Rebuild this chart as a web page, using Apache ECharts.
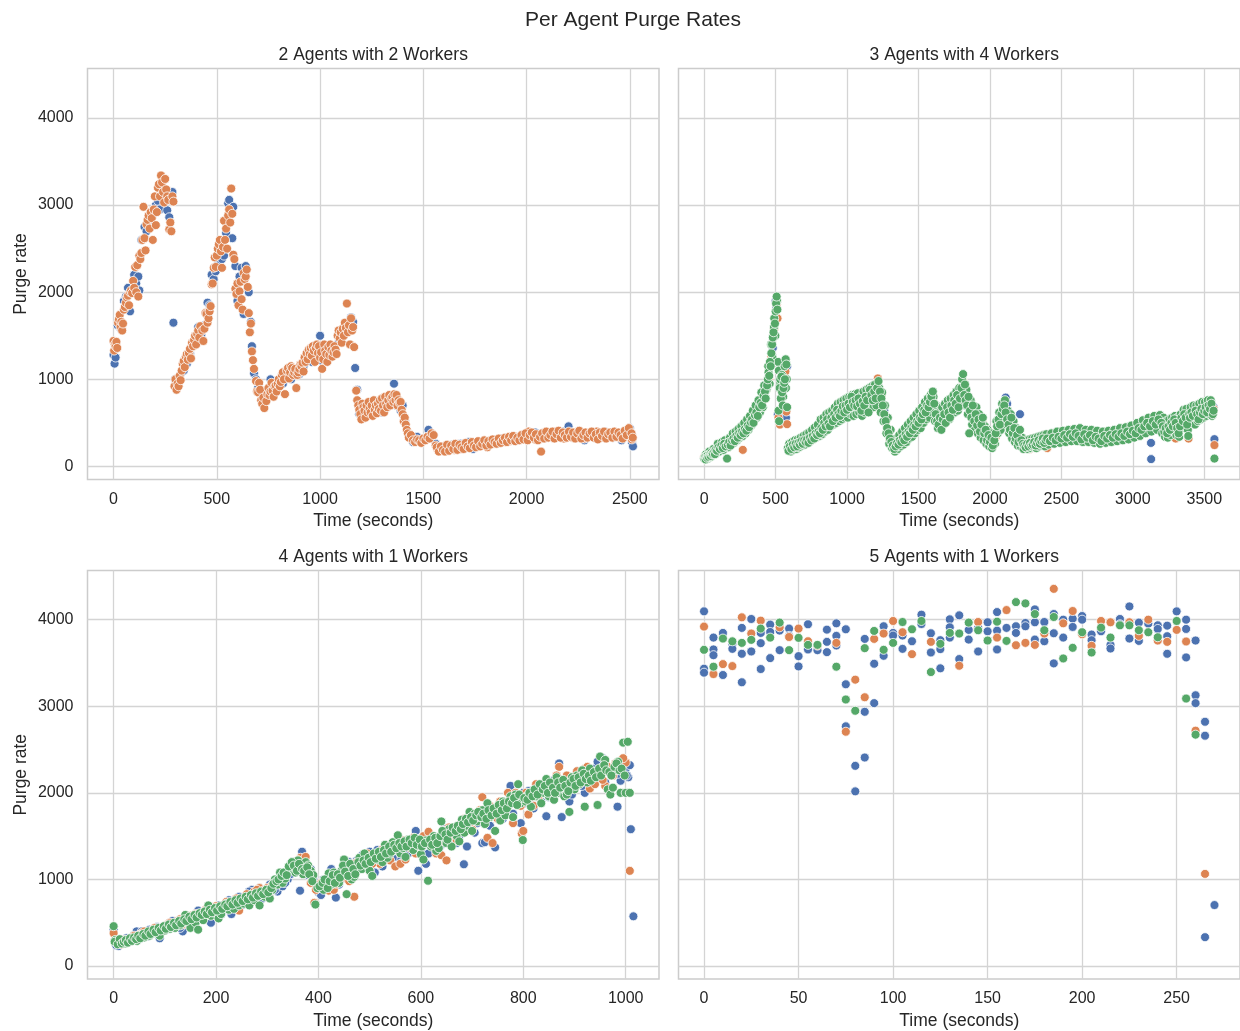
<!DOCTYPE html>
<html>
<head>
<meta charset="utf-8">
<script src="https://cdn.jsdelivr.net/npm/echarts@6/dist/echarts.min.js"></script>
<style>
html,body{margin:0;padding:0;background:#fff;}
#chart{width:1240px;height:1031px;}
</style>
</head>
<body>
<div id="chart"></div>
<script>
// ---------- labels ----------
const mainTitle = 'Per Agent Purge Rates';
const panelTitles = ['2 Agents with 2 Workers', '3 Agents with 4 Workers', '4 Agents with 1 Workers', '5 Agents with 1 Workers'];
const xAxisName = 'Time (seconds)';
const yAxisName = 'Purge rate';
const yTicks = [0, 1000, 2000, 3000, 4000];
const xTicksA = [0, 500, 1000, 1500, 2000, 2500];
const xTicksB = [0, 500, 1000, 1500, 2000, 2500, 3000, 3500];
const xTicksC = [0, 200, 400, 600, 800, 1000];
const xTicksD = [0, 50, 100, 150, 200, 250];

// ---------- panel 1: 2 agents with 2 workers ----------
const p1Blue = [[0,1280],[5,1180],[10,1250],[20,1620],[35,1580],[50,1900],[60,1950],[70,2050],[80,1780],[90,2000],[100,2200],[110,2100],[120,2180],[125,2020],[135,2600],[150,2750],[160,2700],[170,2850],[185,2760],[195,2900],[205,3000],[215,3050],[225,2950],[240,3300],[250,3100],[260,2940],[270,2860],[280,3050],[285,3150],[290,1650],[298,1000],[305,950],[315,1020],[325,1060],[340,1100],[355,1180],[370,1300],[385,1400],[400,1480],[410,1600],[425,1510],[440,1620],[455,1880],[465,1850],[475,2200],[485,2150],[495,2240],[505,2320],[515,2480],[525,2380],[535,2420],[545,2680],[555,3020],[560,3060],[570,2940],[575,2620],[580,2980],[590,2300],[600,1900],[610,2180],[620,2280],[630,1750],[640,2300],[650,2050],[655,2000],[665,1660],[670,1380],[680,1070],[690,1000],[700,900],[720,780],[740,820],[760,1000],[780,860],[800,1000],[820,950],[840,1040],[860,1000],[880,1100],[900,1060],[920,1150],[940,1230],[960,1200],[980,1280],[1000,1500],[1010,1210],[1030,1270],[1050,1300],[1070,1290],[1090,1420],[1110,1560],[1130,1600],[1150,1710],[1160,1660],[1170,1130],[1180,880],[1190,600],[1200,560],[1220,650],[1240,600],[1260,700],[1280,680],[1300,620],[1320,760],[1340,700],[1358,950],[1370,700],[1390,640],[1400,700],[1410,530],[1430,350],[1450,280],[1470,340],[1490,300],[1510,320],[1525,420],[1545,350],[1560,260],[1580,180],[1600,220],[1620,200],[1640,250],[1660,210],[1680,260],[1700,220],[1720,280],[1740,200],[1760,270],[1780,240],[1800,290],[1820,260],[1840,300],[1860,280],[1880,320],[1900,290],[1920,330],[1940,300],[1960,340],[1980,320],[2000,360],[2020,340],[2040,390],[2060,320],[2080,360],[2100,380],[2120,340],[2140,390],[2160,350],[2180,400],[2203,460],[2220,370],[2240,330],[2260,390],[2280,300],[2300,360],[2320,380],[2340,320],[2360,370],[2380,400],[2400,350],[2420,330],[2440,380],[2460,300],[2480,360],[2500,440],[2510,280],[2515,230]];
const p1Orange = [[0,1440],[3,1330],[6,1400],[10,1380],[14,1430],[18,1360],[22,1650],[26,1690],[30,1740],[34,1600],[38,1660],[42,1560],[46,1640],[50,1800],[55,1830],[60,1880],[65,1940],[70,1960],[75,1850],[80,2000],[85,2020],[90,1990],[95,2130],[100,2050],[105,2290],[110,2000],[115,2310],[120,1950],[125,2420],[130,2380],[135,2450],[140,2600],[145,2980],[150,2620],[155,2480],[160,2780],[165,2830],[170,2880],[175,2730],[180,2920],[185,2850],[190,2600],[195,2950],[200,3100],[205,2770],[210,2920],[215,3200],[220,3240],[225,3100],[230,3340],[235,3260],[240,3150],[245,3030],[250,3300],[255,3180],[260,3100],[265,3060],[270,2720],[275,2800],[280,2700],[285,3100],[290,3040],[295,920],[300,1000],[305,880],[310,950],[315,920],[320,1040],[325,990],[330,1100],[335,1180],[340,1210],[345,1140],[350,1260],[355,1290],[360,1225],[365,1300],[370,1350],[375,1240],[380,1420],[385,1380],[390,1450],[395,1500],[400,1400],[405,1520],[410,1560],[415,1480],[420,1610],[430,1560],[435,1440],[440,1580],[445,1760],[450,1750],[455,1650],[460,1700],[465,1780],[470,1840],[475,2090],[480,2100],[485,2280],[490,2400],[495,2290],[500,2420],[505,2500],[510,2550],[515,2600],[520,2470],[525,2280],[530,2520],[535,2820],[540,2600],[545,2730],[550,2500],[555,2880],[560,2950],[565,2800],[570,3190],[575,2900],[580,2430],[585,2380],[590,2040],[595,1980],[600,2100],[605,1850],[610,2010],[615,2120],[620,1920],[625,1800],[630,2220],[635,2150],[640,2180],[645,2260],[650,2060],[655,1760],[660,1540],[665,1640],[670,1320],[675,1220],[680,1120],[690,980],[695,860],[700,850],[705,960],[710,880],[715,760],[720,720],[725,790],[730,670],[740,750],[745,830],[750,900],[755,820],[760,860],[765,960],[770,870],[775,800],[780,920],[785,930],[790,860],[795,950],[800,1000],[805,920],[810,970],[815,1050],[820,1080],[825,1000],[830,830],[840,1100],[845,1130],[850,1010],[855,1080],[860,1150],[865,1130],[870,1050],[875,1080],[880,1120],[885,900],[890,1050],[895,1080],[900,1120],[905,1170],[910,1150],[915,1190],[920,1090],[925,1250],[930,1200],[935,1300],[940,1230],[945,1340],[950,1290],[955,1360],[960,1270],[965,1380],[970,1330],[975,1200],[980,1360],[985,1400],[990,1300],[995,1380],[1000,1250],[1005,1310],[1010,1120],[1015,1230],[1020,1400],[1025,1330],[1030,1290],[1035,1200],[1040,1370],[1045,1280],[1050,1400],[1055,1330],[1060,1260],[1065,1310],[1070,1380],[1075,1340],[1080,1290],[1085,1500],[1090,1560],[1095,1470],[1100,1540],[1105,1420],[1110,1580],[1115,1500],[1120,1650],[1125,1590],[1130,1870],[1135,1540],[1140,1620],[1145,1400],[1150,1700],[1155,1560],[1160,1600],[1165,1370],[1175,870],[1180,760],[1185,700],[1190,650],[1195,600],[1200,540],[1205,720],[1210,680],[1215,640],[1220,560],[1225,700],[1230,620],[1235,740],[1240,660],[1245,620],[1250,700],[1255,580],[1260,760],[1265,650],[1270,700],[1275,610],[1280,720],[1285,660],[1290,760],[1295,640],[1300,780],[1305,700],[1310,620],[1315,800],[1320,720],[1325,680],[1330,760],[1335,820],[1340,700],[1345,780],[1350,800],[1355,740],[1360,830],[1365,760],[1370,820],[1375,700],[1380,760],[1385,730],[1390,740],[1395,650],[1400,600],[1405,520],[1410,560],[1415,480],[1420,420],[1425,380],[1430,330],[1440,360],[1450,300],[1460,280],[1470,310],[1480,300],[1490,270],[1500,320],[1510,300],[1520,340],[1530,320],[1540,380],[1550,360],[1560,240],[1570,190],[1580,200],[1590,180],[1600,210],[1610,190],[1620,230],[1630,200],[1640,220],[1650,190],[1660,240],[1670,210],[1680,200],[1690,230],[1700,250],[1710,220],[1720,240],[1730,260],[1740,230],[1750,250],[1760,240],[1770,270],[1780,250],[1790,280],[1800,260],[1810,220],[1820,270],[1830,290],[1840,260],[1850,300],[1860,270],[1870,290],[1880,310],[1890,280],[1900,300],[1910,320],[1920,290],[1930,310],[1940,330],[1950,300],[1960,340],[1970,310],[1980,330],[1990,350],[2000,340],[2010,400],[2020,320],[2030,360],[2040,310],[2050,340],[2060,360],[2070,170],[2080,330],[2090,380],[2100,350],[2110,390],[2120,330],[2130,360],[2140,400],[2150,340],[2160,380],[2170,350],[2180,320],[2190,370],[2200,390],[2210,360],[2220,330],[2230,380],[2240,350],[2250,370],[2260,340],[2270,380],[2280,320],[2290,360],[2300,390],[2310,350],[2320,370],[2330,340],[2340,400],[2350,360],[2360,330],[2370,380],[2380,350],[2390,390],[2400,360],[2410,340],[2420,380],[2430,350],[2440,370],[2450,330],[2460,360],[2470,380],[2480,340],[2490,420],[2500,400],[2505,360],[2510,310]];
const p1OrangeLate = [[1565,220],[1575,170],[1585,230],[1595,190],[1605,170],[1615,250],[1625,180],[1635,240],[1645,200],[1655,260],[1665,190],[1675,250],[1685,220],[1695,200],[1705,270],[1715,230],[1725,210],[1735,280],[1745,240],[1755,220],[1765,290],[1775,230],[1785,260],[1795,300],[1805,240],[1815,290],[1825,250],[1835,310],[1845,280],[1855,260],[1865,320],[1875,270],[1885,300],[1895,330],[1905,280],[1915,340],[1925,300],[1935,350],[1945,290],[1955,330],[1965,300],[1975,360],[1985,310],[1995,380],[2005,300],[2015,360],[2025,390],[2035,330],[2045,370],[2055,300],[2065,340],[2075,380],[2085,320],[2095,400],[2105,330],[2115,360],[2125,400],[2135,320],[2145,370],[2155,410],[2165,330],[2175,390],[2185,360],[2195,330],[2205,400],[2215,340],[2225,390],[2235,320],[2245,380],[2255,410],[2265,320],[2275,360],[2285,390],[2295,330],[2305,380],[2315,400],[2325,330],[2335,370],[2345,310],[2355,390],[2365,350],[2375,400],[2385,320],[2395,370],[2405,390],[2415,330],[2425,400],[2435,340],[2445,390],[2455,360],[2465,320],[2475,410],[2485,360],[2495,440],[2508,380],[2514,330]];

// ---------- panel 2: 3 agents with 4 workers ----------
const p2Blue = [[0,100],[20,120],[40,150],[60,140],[80,200],[100,190],[120,230],[150,260],[180,290],[210,330],[240,370],[270,420],[300,460],[330,520],[360,600],[390,660],[420,800],[440,900],[460,1160],[480,1360],[500,1900],[505,1830],[515,600],[525,560],[535,950],[545,600],[555,1100],[565,1220],[572,560],[580,1150],[590,190],[610,210],[640,240],[670,260],[700,280],[730,300],[760,330],[790,370],[820,420],[850,470],[880,500],[910,560],[940,620],[970,600],[1000,580],[1030,720],[1060,690],[1090,740],[1120,680],[1150,720],[1180,850],[1210,860],[1240,760],[1260,640],[1290,420],[1320,220],[1340,180],[1370,270],[1400,310],[1430,360],[1460,400],[1490,460],[1520,520],[1550,600],[1580,680],[1610,640],[1640,500],[1670,560],[1700,600],[1730,640],[1760,700],[1790,720],[1810,780],[1830,700],[1860,620],[1890,500],[1920,580],[1940,440],[1970,330],[2000,260],[2030,300],[2060,520],[2090,640],[2110,790],[2120,720],[2140,560],[2170,400],[2190,330],[2210,600],[2230,240],[2260,250],[2300,260],[2340,280],[2380,300],[2420,280],[2460,310],[2500,290],[2540,340],[2580,320],[2620,360],[2660,340],[2700,350],[2740,280],[2780,320],[2820,300],[2860,340],[2900,320],[2940,360],[2980,340],[3020,400],[3060,400],[3100,480],[3127,270],[3128,84],[3150,500],[3180,520],[3220,420],[3260,460],[3300,520],[3340,500],[3380,580],[3420,600],[3460,560],[3500,660],[3540,700],[3565,680],[3571,313]];
const p2Orange = [[0,110],[25,120],[50,150],[75,170],[100,230],[125,220],[150,250],[175,270],[200,300],[225,320],[250,350],[270,190],[290,400],[320,480],[350,560],[380,640],[410,760],[435,880],[455,1000],[470,1260],[490,1580],[500,1720],[507,1860],[513,1700],[520,560],[530,480],[540,880],[550,1040],[560,650],[568,1090],[575,630],[580,485],[590,200],[620,230],[660,250],[700,290],[740,310],[780,360],[820,420],[860,480],[900,540],[940,580],[980,660],[1020,700],[1060,720],[1100,660],[1140,760],[1180,820],[1215,1010],[1240,800],[1270,500],[1300,300],[1330,190],[1360,240],[1390,300],[1420,350],[1450,420],[1480,470],[1510,540],[1540,600],[1570,660],[1600,760],[1630,540],[1660,500],[1690,620],[1720,640],[1750,700],[1780,740],[1812,980],[1830,760],[1860,740],[1890,600],[1920,440],[1950,500],[1980,330],[2010,270],[2040,340],[2070,520],[2100,640],[2130,500],[2160,420],[2190,300],[2220,280],[2250,230],[2280,200],[2310,250],[2340,280],[2370,300],[2400,210],[2430,290],[2460,320],[2490,300],[2520,340],[2550,350],[2580,300],[2610,360],[2640,420],[2670,330],[2700,360],[2730,310],[2760,300],[2790,340],[2820,320],[2850,350],[2880,330],[2910,380],[2940,360],[2970,400],[3000,390],[3030,420],[3060,460],[3090,450],[3120,500],[3150,520],[3180,480],[3210,440],[3240,400],[3270,480],[3300,320],[3330,500],[3360,540],[3390,320],[3420,620],[3450,560],[3480,660],[3510,600],[3540,700],[3565,660],[3571,245]];
const p2Green = [[0,90],[5,110],[10,80],[15,120],[20,100],[25,130],[30,110],[40,140],[45,120],[50,160],[55,140],[60,150],[70,170],[75,140],[80,190],[90,180],[100,220],[110,200],[120,240],[130,210],[140,260],[150,230],[160,90],[165,250],[175,280],[185,240],[195,300],[205,320],[215,290],[225,350],[235,330],[245,380],[255,360],[265,400],[275,380],[285,430],[295,410],[305,470],[315,450],[325,510],[335,540],[345,500],[355,590],[365,620],[375,580],[385,680],[395,730],[405,700],[415,810],[425,860],[430,780],[440,930],[445,1000],[450,1080],[455,1040],[460,1200],[465,1150],[470,1300],[475,1400],[480,1480],[485,1540],[490,1700],[495,1640],[500,1780],[503,1870],[507,1950],[512,1800],[520,640],[524,520],[528,900],[532,1000],[536,780],[540,1030],[545,850],[550,700],[555,900],[560,960],[565,1000],[570,1230],[575,1170],[580,680],[585,210],[590,180],[600,230],[610,200],[620,250],[630,220],[640,260],[650,230],[660,270],[670,250],[680,290],[690,260],[700,300],[710,280],[720,310],[730,270],[740,330],[750,300],[760,350],[770,320],[780,380],[790,360],[800,400],[810,380],[820,440],[830,420],[840,500],[850,460],[860,540],[870,490],[880,460],[890,560],[900,520],[910,600],[920,560],[930,650],[940,600],[950,580],[960,640],[970,690],[980,620],[990,700],[1000,650],[1010,720],[1020,680],[1030,800],[1040,740],[1050,700],[1060,760],[1070,690],[1080,780],[1090,720],[1100,640],[1110,750],[1120,700],[1130,800],[1140,760],[1150,620],[1160,880],[1170,820],[1180,760],[1190,860],[1200,780],[1210,900],[1220,980],[1230,860],[1240,780],[1250,700],[1260,600],[1270,520],[1280,440],[1290,380],[1300,320],[1310,280],[1320,240],[1330,200],[1340,230],[1350,270],[1360,250],[1370,300],[1380,280],[1390,330],[1400,300],[1410,370],[1420,340],[1430,400],[1440,380],[1450,440],[1460,420],[1470,480],[1480,460],[1490,520],[1500,500],[1510,560],[1520,540],[1530,600],[1540,650],[1550,620],[1560,700],[1570,680],[1580,740],[1590,800],[1600,860],[1610,720],[1620,600],[1630,520],[1640,480],[1650,560],[1660,420],[1670,540],[1680,600],[1690,500],[1700,680],[1710,620],[1720,560],[1730,700],[1740,650],[1750,760],[1760,720],[1770,820],[1780,680],[1790,780],[1800,900],[1805,1000],[1812,1060],[1820,820],[1825,940],[1830,760],[1840,700],[1850,800],[1855,380],[1860,640],[1870,560],[1880,700],[1890,520],[1900,600],[1910,470],[1920,540],[1930,400],[1940,480],[1950,560],[1960,380],[1970,420],[1980,300],[1990,360],[2000,280],[2010,330],[2020,240],[2030,300],[2040,380],[2050,460],[2060,540],[2070,480],[2080,600],[2090,660],[2100,700],[2110,620],[2120,540],[2130,480],[2140,420],[2150,560],[2160,380],[2170,440],[2180,320],[2190,360],[2200,280],[2210,420],[2220,300],[2230,260],[2240,240],[2250,220],[2260,260],[2270,230],[2280,270],[2290,240],[2300,250],[2310,280],[2320,240],[2330,270],[2340,300],[2350,260],[2360,290],[2370,320],[2380,270],[2390,300],[2400,320],[2420,290],[2440,330],[2460,300],[2480,340],[2500,320],[2520,360],[2540,330],[2560,370],[2580,340],[2600,380],[2620,350],[2640,310],[2660,370],[2680,330],[2700,360],[2720,300],[2740,340],[2760,320],[2780,290],[2800,350],[2820,320],[2840,360],[2860,330],[2880,370],[2900,340],[2920,380],[2940,350],[2960,400],[2980,370],[3000,410],[3020,380],[3040,440],[3060,420],[3080,460],[3100,500],[3120,460],[3140,520],[3160,480],[3180,540],[3200,500],[3210,460],[3220,400],[3230,440],[3240,380],[3250,460],[3260,420],[3270,500],[3280,460],[3290,540],[3300,500],[3310,440],[3320,380],[3330,460],[3340,560],[3350,520],[3360,600],[3370,560],[3380,480],[3388,350],[3395,600],[3400,560],[3410,620],[3420,580],[3440,640],[3450,600],[3460,540],[3470,620],[3480,660],[3490,600],[3500,640],[3510,680],[3520,620],[3530,700],[3540,660],[3550,720],[3560,600],[3565,640],[3571,90]];
const p2GreenEdge = [[12,140],[28,90],[35,170],[48,110],[65,200],[85,150],[95,260],[105,170],[125,280],[135,190],[145,300],[170,220],[180,330],[190,260],[200,380],[210,270],[220,400],[230,300],[240,430],[250,330],[260,460],[270,350],[280,500],[290,380],[300,540],[310,420],[320,580],[330,470],[340,640],[350,530],[360,700],[370,560],[380,760],[390,620],[400,850],[410,680],[420,930],[435,880],[448,1150],[458,950],[468,1400],[478,1250],[488,1600],[498,1500],[510,1900],[517,1200],[522,1100],[533,960],[543,1050],[553,800],[563,1150],[572,900],[578,1000],[595,260],[605,170],[615,280],[625,190],[635,300],[645,200],[655,310],[665,220],[675,330],[685,240],[695,350],[705,250],[715,370],[725,280],[735,390],[745,290],[755,420],[765,310],[775,450],[785,330],[795,480],[805,350],[815,540],[825,370],[835,560],[845,400],[855,600],[865,420],[875,620],[885,460],[895,640],[905,480],[915,680],[925,500],[935,720],[945,520],[955,740],[965,540],[975,760],[985,560],[995,780],[1005,560],[1015,800],[1025,600],[1035,820],[1045,580],[1055,830],[1065,600],[1075,840],[1085,620],[1095,800],[1105,580],[1115,860],[1125,620],[1135,880],[1145,680],[1155,900],[1165,700],[1175,920],[1185,680],[1195,940],[1205,700],[1225,900],[1235,620],[1245,850],[1255,520],[1265,700],[1275,380],[1285,560],[1295,260],[1305,420],[1315,210],[1325,300],[1335,170],[1345,320],[1355,200],[1365,360],[1375,230],[1385,400],[1395,250],[1405,440],[1415,280],[1425,480],[1435,320],[1445,520],[1455,340],[1465,560],[1475,380],[1485,600],[1495,420],[1505,640],[1515,440],[1525,680],[1535,500],[1545,740],[1555,540],[1565,780],[1575,560],[1585,820],[1595,620],[1605,800],[1615,520],[1625,700],[1635,440],[1645,620],[1655,500],[1665,680],[1675,480],[1685,720],[1695,560],[1705,760],[1715,540],[1725,780],[1735,600],[1745,820],[1755,620],[1765,860],[1775,640],[1785,900],[1795,700],[1815,920],[1835,880],[1845,600],[1865,760],[1875,480],[1885,640],[1895,420],[1905,680],[1915,380],[1925,600],[1935,330],[1945,500],[1955,300],[1965,460],[1975,260],[1985,420],[1995,230],[2005,380],[2015,210],[2025,340],[2035,260],[2045,520],[2055,380],[2065,620],[2075,420],[2085,720],[2095,560],[2105,760],[2115,480],[2125,640],[2135,380],[2145,600],[2155,320],[2165,520],[2175,280],[2185,440],[2195,240],[2205,360],[2215,230],[2225,330],[2235,200],[2245,290],[2255,300],[2265,200],[2275,310],[2285,210],[2295,320],[2305,220],[2315,330],[2325,210],[2335,340],[2345,230],[2355,350],[2365,240],[2375,360],[2385,230],[2395,370],[2410,250],[2430,380],[2450,260],[2470,400],[2490,270],[2510,410],[2530,280],[2550,420],[2570,290],[2590,430],[2610,290],[2630,440],[2650,280],[2670,420],[2690,280],[2710,420],[2730,270],[2750,410],[2770,260],[2790,400],[2810,270],[2830,410],[2850,280],[2870,420],[2890,290],[2910,440],[2930,300],[2950,450],[2970,310],[2990,470],[3010,330],[3030,500],[3050,350],[3070,530],[3090,380],[3110,560],[3130,400],[3150,580],[3170,420],[3190,590],[3205,380],[3215,560],[3225,340],[3235,520],[3245,330],[3255,540],[3265,360],[3275,560],[3285,400],[3295,580],[3305,360],[3315,560],[3325,340],[3335,600],[3345,440],[3355,650],[3365,460],[3375,660],[3385,420],[3405,680],[3415,500],[3425,700],[3435,480],[3445,700],[3455,520],[3465,720],[3475,540],[3485,740],[3495,560],[3505,740],[3515,580],[3525,760],[3535,600],[3545,760],[3555,580]];

// ---------- panel 3: 4 agents with 1 workers ----------
const p3Blue = [[0,420],[5,240],[10,230],[15,300],[20,260],[30,280],[40,360],[45,400],[50,310],[60,370],[70,420],[80,390],[90,320],[100,460],[110,500],[120,470],[135,400],[140,520],[150,560],[160,600],[170,580],[180,620],[190,500],[200,640],[210,600],[220,700],[230,600],[240,750],[250,700],[260,800],[270,880],[280,820],[290,780],[300,850],[310,900],[320,860],[330,920],[340,1000],[350,1100],[360,1150],[364,870],[368,1320],[375,1200],[380,1050],[390,1000],[400,850],[405,820],[410,1000],[420,980],[425,1120],[430,900],[434,790],[440,940],[450,1050],[460,1200],[470,1100],[480,1150],[490,1200],[500,1320],[510,1080],[520,1200],[530,1250],[540,1300],[550,1400],[560,1220],[570,1370],[580,1420],[590,1560],[595,1100],[600,1320],[610,1180],[620,1380],[630,1450],[640,1400],[650,1520],[660,1480],[670,1420],[680,1560],[684,1175],[690,1380],[700,1600],[710,1650],[720,1420],[725,1430],[730,1700],[740,1740],[745,1370],[750,1800],[760,1700],[770,1850],[775,2080],[780,1760],[790,1900],[795,1650],[800,2000],[810,2020],[815,1880],[820,1820],[830,1960],[840,2100],[845,1730],[850,1950],[860,2150],[870,2340],[875,1720],[880,2050],[890,1900],[900,2100],[910,2160],[920,2000],[930,2080],[940,2280],[945,2360],[950,2200],[960,2120],[970,2260],[975,2200],[980,2300],[984,1840],[990,2140],[995,2250],[1000,2280],[1005,2180],[1008,2320],[1010,1580],[1015,574]];
const p3BlueFill = [[3,300],[12,280],[25,320],[35,290],[55,400],[65,340],[75,380],[85,450],[95,420],[105,430],[115,520],[125,510],[130,440],[145,580],[155,520],[165,640],[175,560],[185,660],[195,600],[205,700],[215,640],[225,760],[235,700],[245,800],[255,760],[265,860],[275,800],[285,900],[295,820],[305,940],[315,880],[325,1000],[335,960],[345,1060],[355,1180],[372,1240],[385,1120],[395,940],[415,900],[445,1000],[455,1080],[465,1150],[475,1220],[485,1280],[495,1180],[505,1260],[515,1340],[525,1150],[535,1380],[545,1250],[555,1330],[565,1450],[575,1300],[585,1480],[605,1400],[615,1300],[625,1500],[635,1350],[645,1580],[655,1420],[665,1600],[675,1500],[695,1680],[705,1540],[715,1750],[735,1620],[755,1860],[765,1780],[785,1950],[805,1880],[825,2040],[835,1900],[855,2050],[865,2000],[885,2180],[895,1980],[905,2250],[915,2080],[925,2200],[935,2120],[955,2400],[965,2300],[985,2220],[1002,2200]];
const p3Orange = [[0,380],[8,260],[15,250],[25,270],[35,300],[45,330],[55,380],[65,360],[75,410],[85,430],[95,400],[105,480],[115,470],[125,520],[135,480],[145,560],[155,540],[165,600],[175,620],[185,660],[195,640],[205,620],[215,700],[225,680],[235,720],[245,640],[255,750],[265,820],[275,860],[285,900],[295,880],[305,860],[315,950],[325,1000],[335,1080],[345,1150],[355,1200],[365,1250],[375,1260],[385,960],[392,730],[400,900],[410,920],[420,870],[430,880],[440,1000],[450,1020],[460,980],[470,800],[480,1150],[490,1200],[500,1100],[510,1250],[520,1180],[530,1300],[540,1220],[550,1150],[560,1180],[570,1230],[580,1360],[590,1300],[600,1380],[610,1480],[620,1460],[630,1300],[640,1280],[650,1220],[660,1500],[670,1450],[680,1560],[690,1620],[700,1580],[710,1700],[720,1950],[730,1480],[740,1420],[750,1700],[760,1850],[770,2000],[780,1650],[790,1900],[797,1530],[800,1560],[810,1750],[820,1850],[830,1950],[840,2000],[850,2060],[860,2100],[870,2300],[880,2050],[890,2100],[900,2050],[910,2200],[920,2280],[930,2050],[940,2100],[950,2200],[960,2080],[970,2250],[980,2340],[990,2370],[1000,2350],[1008,1099]];
const p3OrangeFill = [[5,290],[20,300],[30,280],[40,350],[50,360],[60,400],[70,380],[80,440],[90,420],[100,460],[110,500],[120,490],[130,540],[140,520],[150,580],[160,600],[170,570],[180,650],[190,620],[200,690],[210,660],[220,740],[230,700],[240,780],[250,740],[260,830],[270,780],[280,880],[290,850],[300,900],[310,940],[320,980],[330,1040],[340,1100],[350,1180],[360,1220],[370,1150],[380,1100],[395,880],[405,960],[415,1000],[425,1060],[435,950],[445,1080],[455,1100],[465,1150],[475,1200],[485,1250],[495,1300],[505,1180],[515,1300],[525,1350],[535,1280],[545,1400],[555,1350],[565,1450],[575,1400],[585,1480],[595,1420],[605,1500],[615,1550],[625,1480],[635,1420],[645,1560],[655,1600],[665,1540],[675,1620],[685,1700],[695,1650],[705,1750],[715,1800],[725,1700],[735,1850],[745,1780],[755,1900],[765,1820],[775,1950],[785,2000],[795,1850],[805,2000],[815,1950],[825,2100],[835,2050],[845,2150],[855,2000],[865,2200],[875,2100],[885,2200],[895,2150],[905,2250],[915,2150],[925,2300],[935,2200],[945,2250],[955,2150],[965,2300],[975,2200],[985,2280],[995,2400]];
const p3Green = [[0,460],[3,300],[6,280],[10,300],[14,270],[18,290],[22,260],[26,300],[30,280],[34,310],[38,300],[42,320],[46,290],[50,340],[55,360],[60,330],[65,380],[70,350],[75,400],[80,380],[85,420],[90,350],[95,440],[100,410],[105,460],[110,430],[115,470],[120,440],[125,490],[130,470],[135,520],[140,590],[145,500],[150,440],[155,540],[160,500],[165,420],[170,580],[175,530],[180,600],[185,700],[190,580],[195,620],[200,640],[205,550],[210,600],[215,680],[220,720],[225,650],[230,700],[235,660],[240,740],[245,700],[250,760],[255,720],[260,780],[265,700],[270,800],[275,760],[280,830],[285,700],[290,840],[295,800],[300,860],[305,780],[310,880],[315,1000],[320,940],[325,1080],[330,960],[335,1010],[340,1100],[345,1180],[350,1120],[355,1080],[360,1220],[365,1140],[370,1060],[375,1200],[380,1160],[385,1100],[390,1050],[394,710],[398,900],[405,930],[410,880],[415,960],[420,1070],[425,940],[430,1080],[435,980],[440,960],[445,1100],[450,1230],[455,830],[460,1160],[465,1000],[470,1030],[475,1100],[480,1250],[485,1120],[490,1300],[495,1160],[500,1100],[505,1040],[510,1280],[515,1230],[520,1290],[525,1200],[530,1400],[535,1250],[540,1300],[545,1430],[550,1340],[555,1510],[560,1300],[565,1360],[570,1260],[575,1460],[580,1400],[585,1340],[590,1440],[595,1390],[600,1290],[605,1230],[610,1450],[614,985],[620,1380],[625,1500],[630,1330],[635,1360],[640,1670],[645,1480],[650,1420],[655,1580],[660,1380],[665,1600],[670,1500],[675,1440],[680,1690],[685,1540],[690,1620],[695,1780],[700,1560],[705,1760],[710,1670],[715,1720],[720,1800],[725,1640],[730,1880],[735,1720],[740,1780],[745,1560],[750,1820],[755,1680],[760,1900],[765,1740],[770,1840],[775,1960],[780,1720],[785,1980],[790,2100],[795,1880],[799,1455],[805,1900],[810,1980],[815,1840],[820,2020],[825,1960],[830,2060],[835,1880],[840,2000],[845,2160],[850,1960],[855,2060],[860,1920],[865,2180],[870,2000],[875,2060],[880,1960],[885,1980],[890,1780],[895,2180],[900,2040],[905,2200],[910,2100],[915,2260],[920,1840],[925,2120],[930,2280],[935,2180],[940,2220],[945,1860],[950,2420],[955,2300],[960,2380],[965,2040],[970,1980],[975,2060],[980,2260],[985,2360],[990,2000],[995,2580],[1000,2000],[1004,2590],[1008,2000]];
const p3GreenFill = [[2,280],[8,250],[12,310],[16,260],[20,280],[24,300],[28,270],[32,320],[36,290],[40,330],[44,310],[48,350],[52,320],[58,370],[62,350],[68,400],[72,370],[78,420],[82,390],[88,440],[92,410],[98,460],[102,430],[108,480],[112,450],[118,500],[122,470],[128,520],[132,490],[138,540],[142,520],[148,570],[152,540],[158,590],[162,560],[168,610],[172,590],[178,630],[182,600],[188,650],[192,620],[198,670],[202,640],[208,690],[212,660],[218,710],[222,690],[228,740],[232,710],[238,760],[242,730],[248,780],[252,750],[258,800],[262,770],[268,820],[272,790],[278,840],[282,810],[288,860],[292,830],[298,880],[302,850],[308,900],[312,950],[318,980],[322,1000],[328,1040],[332,1080],[338,1050],[342,1150],[348,1200],[352,1160],[358,1100],[362,1180],[368,1120],[372,1100],[378,1140],[382,1060],[388,980],[402,920],[408,960],[412,1000],[418,900],[422,980],[428,1050],[432,960],[438,1060],[442,1020],[448,1160],[452,1090],[458,1040],[462,1180],[468,1120],[472,1060],[478,1200],[482,1160],[488,1220],[492,1180],[498,1250],[502,1200],[508,1300],[512,1240],[518,1320],[522,1260],[528,1340],[532,1300],[538,1380],[542,1320],[548,1400],[552,1360],[558,1420],[562,1380],[568,1440],[572,1380],[578,1460],[582,1420],[588,1480],[592,1400],[598,1460],[602,1380],[608,1420],[618,1460],[622,1400],[628,1480],[632,1420],[638,1500],[642,1560],[648,1520],[652,1460],[658,1540],[662,1600],[668,1560],[672,1620],[678,1580],[682,1640],[688,1700],[692,1660],[698,1720],[702,1680],[708,1740],[712,1780],[718,1720],[722,1760],[728,1700],[732,1800],[738,1740],[742,1820],[748,1760],[752,1860],[758,1800],[762,1880],[768,1820],[772,1900],[778,1880],[782,1940],[788,1860],[792,1980],[802,1940],[808,1920],[812,2000],[818,1960],[822,2040],[828,1980],[832,2100],[838,2040],[842,2080],[848,2000],[852,2120],[858,2060],[862,2000],[868,2120],[872,2060],[878,2150],[882,2080],[888,2020],[892,2120],[898,2160],[902,2080],[908,2180],[912,2120],[918,2220],[922,2160],[928,2200],[932,2140],[938,2240],[942,2180],[948,2280],[952,2200],[958,2320],[962,2260],[968,2240],[972,2200],[978,2300],[982,2340],[988,2260],[992,2280],[998,2200]];

// ---------- panel 4: 5 agents with 1 workers ----------
const p4Blue = [[0,4096],[0,3434],[0,3388],[5,3793],[5,3656],[5,3590],[10,3847],[10,3361],[15,3721],[15,3663],[20,3905],[20,3606],[20,3277],[25,4008],[25,3633],[30,3847],[30,3729],[30,3430],[35,3943],[35,3858],[35,3556],[40,3874],[40,3648],[45,3897],[45,3813],[50,3579],[50,3460],[55,3947],[55,3656],[60,3648],[65,3885],[65,3744],[65,3625],[70,3958],[70,3813],[70,3702],[75,3889],[75,3254],[75,2768],[80,2312],[80,2017],[85,3778],[85,2936],[85,2408],[90,3491],[90,3036],[95,3924],[95,3583],[100,3847],[100,3817],[105,3817],[105,3663],[110,3751],[115,4058],[115,3950],[120,3843],[120,3621],[125,3763],[125,3660],[125,3438],[130,4004],[130,3912],[130,3793],[135,4050],[135,3545],[140,3882],[140,3770],[145,3905],[145,3633],[150,3970],[150,3866],[155,4088],[155,3874],[155,3656],[160,3905],[165,3924],[165,3847],[170,3962],[170,3924],[175,4119],[175,3970],[175,3770],[180,3973],[180,3751],[185,4065],[185,3843],[185,3495],[190,4000],[190,3793],[195,4012],[195,3916],[200,4042],[200,4000],[205,3828],[205,3763],[210,3866],[215,3709],[215,3667],[220,4008],[220,3947],[225,4153],[225,3782],[230,3966],[230,3755],[235,3954],[240,3935],[240,3893],[245,3931],[245,3809],[245,3606],[250,4096],[255,4000],[255,3893],[255,3564],[260,3759],[260,3127],[260,3036],[265,2821],[265,2660],[265,333],[270,704]];
const p4Orange = [[0,3920],[5,3372],[10,3487],[15,3464],[20,4027],[25,3840],[30,3989],[40,3912],[45,3800],[50,3897],[55,3751],[60,3700],[70,3732],[75,2706],[80,3307],[85,3104],[90,3778],[95,3840],[100,3985],[105,3855],[110,3602],[120,3744],[135,3468],[145,3973],[155,3793],[160,4111],[165,3705],[170,3732],[175,3709],[180,3840],[185,4356],[190,3958],[195,4100],[200,3832],[205,3698],[210,3985],[215,3970],[225,3970],[230,3813],[235,4000],[240,3759],[245,3744],[250,3882],[255,3748],[260,2718],[265,1064]];
const p4Green = [[0,3652],[5,3457],[10,3782],[15,3750],[20,3732],[25,3767],[30,3897],[35,3793],[40,3966],[45,3648],[50,3790],[55,3709],[60,3709],[70,3457],[75,3078],[80,2948],[85,3671],[90,3870],[95,3652],[100,3732],[105,3973],[110,3889],[115,3985],[120,3395],[125,3721],[130,3847],[135,3840],[140,3966],[145,3878],[150,3759],[155,3977],[160,3755],[165,4203],[170,4188],[175,4065],[180,3878],[185,4031],[190,3552],[195,3675],[200,3855],[205,3621],[210,3908],[215,3793],[220,3935],[225,3935],[230,3878],[235,3855],[240,3797],[250,3985],[255,3089],[260,2672]];

// ---------- styling ----------
const BLUE = '#4C72B0', ORANGE = '#DD8452', GREEN = '#55A868';
const TXT = '#262626';
const FONT = '"Liberation Sans", Arial, sans-serif';
const GRIDC = '#d4d4d4';

const panels = [
  {left: 87.5, top: 68.5, width: 571.5, height: 411, xmin: -126, xmax: 2641, xt: xTicksA, ylab: true,
   series: [[p1Blue, BLUE], [p1Orange.concat(p1OrangeLate), ORANGE]]},
  {left: 678.5, top: 68.5, width: 572, height: 411, xmin: -180, xmax: 3750, xt: xTicksB, ylab: false,
   series: [[p2Blue, BLUE], [p2Orange, ORANGE], [p2GreenEdge.concat(p2Green), GREEN]]},
  {left: 87.5, top: 570.5, width: 571.5, height: 410, xmin: -51, xmax: 1065, xt: xTicksC, ylab: true,
   series: [[p3Blue.concat(p3BlueFill), BLUE], [p3Orange.concat(p3OrangeFill), ORANGE], [p3Green.concat(p3GreenFill), GREEN]]},
  {left: 678.5, top: 570.5, width: 572, height: 410, xmin: -13.5, xmax: 283.5, xt: xTicksD, ylab: false,
   series: [[p4Blue, BLUE], [p4Orange, ORANGE], [p4Green, GREEN]]}
];

const plain = v => String(Math.round(v));
const grid = [], xAxis = [], yAxis = [], series = [], graphic = [];
panels.forEach((p, i) => {
  grid.push({left: p.left, top: p.top, width: p.width, height: p.height, show: true, borderColor: '#cccccc', borderWidth: 1.5, backgroundColor: 'transparent', containLabel: false});
  xAxis.push({
    gridIndex: i, type: 'value', min: p.xmin, max: p.xmax,
    axisLine: {show: false}, axisTick: {show: false, customValues: p.xt},
    axisLabel: {customValues: p.xt, formatter: plain, color: TXT, fontSize: 16, fontFamily: FONT, margin: 12},
    splitLine: {show: true, lineStyle: {color: GRIDC, width: 1.3}},
    name: xAxisName, nameLocation: 'middle', nameGap: 33,
    nameTextStyle: {color: TXT, fontSize: 17.5, fontFamily: FONT}
  });
  yAxis.push({
    gridIndex: i, type: 'value', min: -150, max: 4568,
    axisLine: {show: false}, axisTick: {show: false, customValues: yTicks},
    axisLabel: {show: p.ylab, customValues: yTicks, formatter: plain, color: TXT, fontSize: 16, fontFamily: FONT, margin: 14},
    splitLine: {show: true, lineStyle: {color: GRIDC, width: 1.3}},
    name: p.ylab ? yAxisName : '', nameLocation: 'middle', nameGap: 57, nameRotate: 90,
    nameTextStyle: {color: TXT, fontSize: 17.5, fontFamily: FONT}
  });
  p.series.forEach(([data, color]) => {
    series.push({
      type: 'scatter', xAxisIndex: i, yAxisIndex: i, data: data,
      symbol: 'circle', symbolSize: 9,
      itemStyle: {color: color, borderColor: '#ffffff', borderWidth: 0.8, opacity: 1},
      emphasis: {disabled: true}
    });
  });
  graphic.push({type: 'text', x: p.left + 571.5 / 2, y: p.top - 13, style: {text: panelTitles[i], fill: TXT, fontSize: 17.5, fontFamily: FONT, textAlign: 'center', textVerticalAlign: 'middle'}});
});
graphic.push({type: 'text', x: 633, y: 20, style: {text: mainTitle, fill: TXT, fontSize: 21, fontFamily: FONT, textAlign: 'center', textVerticalAlign: 'middle'}});

const chart = echarts.init(document.getElementById('chart'), null, {renderer: 'canvas'});
chart.setOption({
  animation: false,
  backgroundColor: '#ffffff',
  grid, xAxis, yAxis, series, graphic
});
</script>
</body>
</html>
